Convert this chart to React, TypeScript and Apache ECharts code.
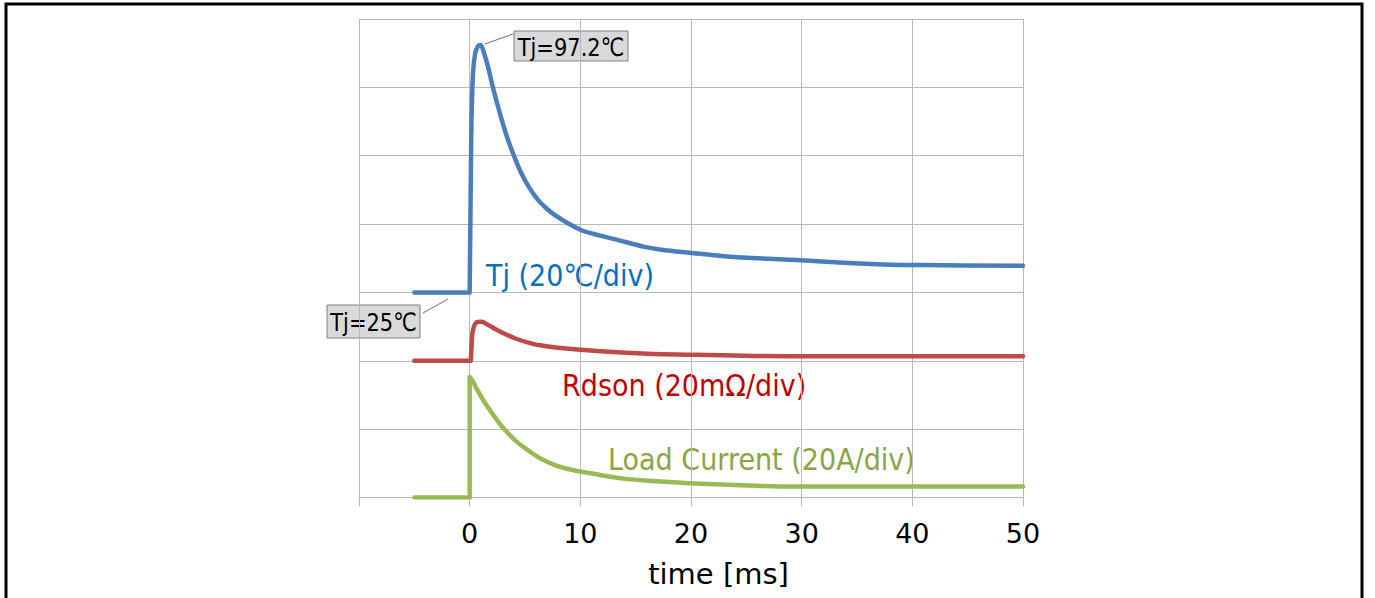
import React, { useEffect, useRef } from "react";
import * as echarts from "echarts";

// time [ms] vs. value in divisions (grid has 7 divisions, 0..7)
// step part (baseline + sharp rise) and decay part of each trace
const tjStep: [number, number][] = [[-5, 3], [0, 3], [0.15, 5.38]];
const tjDecay: [number, number][] = [
  [0.15, 5.38], [0.3, 6.2], [0.5, 6.5], [0.75, 6.6], [1.0, 6.62],
  [1.3, 6.5], [1.66, 6.3], [2.1, 6.0], [2.56, 5.72], [3.0, 5.47], [3.47, 5.23],
  [4.0, 5.0], [4.68, 4.74], [5.4, 4.53], [6.19, 4.35], [7.0, 4.22], [7.7, 4.13],
  [8.8, 4.02], [10.1, 3.91], [11.8, 3.83], [13.1, 3.78], [15.7, 3.67], [17.5, 3.62],
  [19.9, 3.58], [23, 3.53], [26, 3.5], [29.9, 3.47], [33, 3.44], [37.4, 3.41],
  [40.8, 3.4], [50, 3.39],
];

const rdsonStep: [number, number][] = [[-5, 2], [0.1, 2], [0.2, 2.3]];
const rdsonDecay: [number, number][] = [
  [0.2, 2.3], [0.3, 2.45], [0.6, 2.56], [1.06, 2.57], [1.6, 2.53],
  [2.26, 2.47], [3.1, 2.4], [4.08, 2.33], [5.0, 2.28], [6.19, 2.23], [8, 2.19],
  [10, 2.16], [13.7, 2.12], [16.5, 2.1], [20.1, 2.09], [25.8, 2.07], [32, 2.065],
  [50, 2.065],
];

const currentStep: [number, number][] = [[-5, 0], [0, 0], [0, 1.76]];
const currentDecay: [number, number][] = [
  [0, 1.76], [0.3, 1.7], [0.6, 1.6], [1.06, 1.47], [1.6, 1.33],
  [2.26, 1.18], [2.8, 1.06], [3.47, 0.94], [4.3, 0.81], [5.28, 0.69], [6.4, 0.57],
  [7.7, 0.475], [8.8, 0.42], [10, 0.38], [11.8, 0.33], [13.7, 0.28], [16.5, 0.24],
  [19.8, 0.21], [24.5, 0.18], [29.3, 0.16], [50, 0.16],
];

const xMin = -10;
const xMax = 50;
const xStep = 10;
const yMin = 0;
const yMax = 7;

const seriesNames = ["Tj", "Rdson", "Load Current"];
const seriesLabels = ["Tj (20℃/div)", "Rdson (20mΩ/div)", "Load Current (20A/div)"];
const peakLabel = "Tj=97.2℃";
const startLabel = "Tj=25℃";
const xAxisTitle = "time [ms]";

const FONT = "'DejaVu Sans', Verdana, sans-serif";
const GRID = "#b8b8b8";

export default function App() {
  const ref = useRef<HTMLDivElement>(null);

  useEffect(() => {
    if (!ref.current) return;
    const chart = echarts.init(ref.current, undefined, { renderer: "svg" });
    const lineSeries = (name: string, data: [number, number][], color: string, z: number, smooth: number) => ({
      name,
      type: "line",
      data,
      showSymbol: false,
      smooth: smooth > 0 ? smooth : false,
      lineStyle: { color, width: 4.5, cap: "round", join: "round" },
      itemStyle: { color },
      z,
    });
    chart.setOption({
      animation: false,
      backgroundColor: "#ffffff",
      grid: { left: 359, top: 19, width: 664, height: 478.5, containLabel: false },
      xAxis: {
        type: "value",
        min: xMin,
        max: xMax,
        interval: xStep,
        axisLine: { show: true, lineStyle: { color: GRID, width: 1 } },
        axisTick: { show: true, inside: false, length: 9, lineStyle: { color: GRID } },
        splitLine: { show: true, lineStyle: { color: GRID, width: 1 } },
        axisLabel: {
          color: "#000",
          fontFamily: FONT,
          fontSize: 27,
          margin: 22,
          formatter: (v: number) => (v < 0 ? "" : String(v)),
        },
        name: xAxisTitle,
        nameLocation: "middle",
        nameGap: 62,
        nameTextStyle: { color: "#000", fontFamily: FONT, fontSize: 29, padding: [0, 0, 0, 55] },
      },
      yAxis: {
        type: "value",
        min: yMin,
        max: yMax,
        interval: 1,
        axisLine: { show: true, lineStyle: { color: GRID, width: 1 } },
        axisTick: { show: true, inside: false, length: 5, lineStyle: { color: GRID } },
        splitLine: { show: true, lineStyle: { color: GRID, width: 1 } },
        axisLabel: { show: false },
      },
      series: [
        lineSeries(seriesNames[0], tjStep, "#4a7ebb", 3, 0),
        lineSeries(seriesNames[0], tjDecay, "#4a7ebb", 3, 0.3),
        lineSeries(seriesNames[1], rdsonStep, "#be4b48", 2, 0),
        lineSeries(seriesNames[1], rdsonDecay, "#be4b48", 2, 0.3),
        lineSeries(seriesNames[2], currentStep, "#98b954", 2, 0),
        lineSeries(seriesNames[2], currentDecay, "#98b954", 2, 0.3),
      ],
      graphic: [
        {
          type: "rect",
          shape: { x: 6, y: 4, width: 1356, height: 700 },
          style: { fill: "none", stroke: "#000", lineWidth: 3 },
          silent: true,
        },
        {
          type: "text",
          x: 486,
          y: 275,
          scaleY: 1.12,
          style: { text: seriesLabels[0], fill: "#0070c0", font: `27px ${FONT}`, textVerticalAlign: "middle" },
        },
        {
          type: "text",
          x: 562,
          y: 385,
          scaleY: 1.12,
          style: { text: seriesLabels[1], fill: "#c00000", font: `27px ${FONT}`, textVerticalAlign: "middle" },
        },
        {
          type: "text",
          x: 608,
          y: 459,
          scaleY: 1.12,
          style: { text: seriesLabels[2], fill: "#8aa446", font: `27px ${FONT}`, textVerticalAlign: "middle" },
        },
        {
          type: "line",
          shape: { x1: 485, y1: 44, x2: 513, y2: 34 },
          style: { stroke: "#6b6b8f", lineWidth: 1 },
        },
        {
          type: "rect",
          shape: { x: 514, y: 31, width: 114, height: 30 },
          style: { fill: "#d9d9d9", stroke: "#808080", lineWidth: 1 },
        },
        {
          type: "text",
          x: 571,
          y: 46.5,
          scaleY: 1.2,
          style: { text: peakLabel, fill: "#000", font: `21px ${FONT}`, textAlign: "center", textVerticalAlign: "middle" },
        },
        {
          type: "line",
          shape: { x1: 423, y1: 313, x2: 448, y2: 299 },
          style: { stroke: "#6b6b8f", lineWidth: 1 },
        },
        {
          type: "rect",
          shape: { x: 327, y: 305, width: 93, height: 33 },
          style: { fill: "#d9d9d9", stroke: "#808080", lineWidth: 1 },
        },
        {
          type: "text",
          x: 373.5,
          y: 322,
          scaleY: 1.2,
          style: { text: startLabel, fill: "#000", font: `21px ${FONT}`, textAlign: "center", textVerticalAlign: "middle" },
        },
      ],
    });
    return () => chart.dispose();
  }, []);

  return (
    <div
      ref={ref}
      style={{ position: "absolute", left: 0, top: 0, width: 1375, height: 598 }}
    />
  );
}
